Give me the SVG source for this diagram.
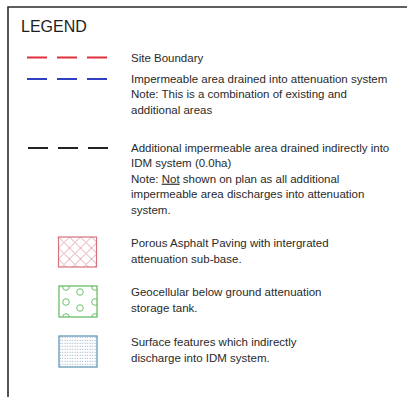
<svg xmlns="http://www.w3.org/2000/svg" width="407" height="400" viewBox="0 0 407 400">
  <style>
    .t { font-family: "Liberation Sans", Arial, sans-serif; font-size: 11.5px; fill: #2a2a2a; }
    .title { font-family: "Liberation Sans", Arial, sans-serif; font-size: 16px; fill: #1e1e1e; }
    .frame { stroke: #2b2b2b; stroke-width: 1.6; fill: none; }
    .dash { stroke-width: 1.8; stroke-dasharray: 20 10; fill: none; }
  </style>
  <defs>
    <pattern id="hatch" patternUnits="userSpaceOnUse" x="58.5" y="237" width="11" height="11">
      <path d="M0,0 L11,11 M11,0 L0,11 M-1,10 L1,12 M10,-1 L12,1 M-1,1 L1,-1 M10,12 L12,10" stroke="#e0a0a8" stroke-width="0.9" fill="none"/>
    </pattern>
    <pattern id="dots" patternUnits="userSpaceOnUse" x="59" y="336" width="2.5" height="3">
      <rect x="0.6" y="0.8" width="1" height="1" fill="#8aa6bd"/>
    </pattern>
    <clipPath id="clipGeo">
      <rect x="59" y="286" width="38" height="31"/>
    </clipPath>
  </defs>

  <rect width="407" height="400" fill="#ffffff"/>

  <!-- outer frame (open on the right and bottom) -->
  <g id="frame">
    <path class="frame" d="M8,397 L8,7 L407,7"/>
  </g>

  <g id="title">
    <text class="title" x="21" y="32">LEGEND</text>
  </g>

  <!-- line-type samples -->
  <g id="connectors">
    <line class="dash" x1="27" y1="57.5" x2="110" y2="57.5" stroke="#e0303c"/>
    <line class="dash" x1="27" y1="79" x2="110" y2="79" stroke="#3040c0"/>
    <line class="dash" x1="28" y1="148" x2="110" y2="148" stroke="#222222"/>
  </g>

  <g id="site-boundary">
    <text class="t" x="131" y="61.5">Site Boundary</text>
  </g>

  <g id="impermeable-area">
    <text class="t" x="131" y="82.5">Impermeable area drained into attenuation system</text>
    <text class="t" x="131" y="98">Note: This is a combination of existing and</text>
    <text class="t" x="131" y="113.5">additional areas</text>
  </g>

  <g id="additional-area">
    <text class="t" x="131" y="151.5">Additional impermeable area drained indirectly into</text>
    <text class="t" x="131" y="167">IDM system (0.0ha)</text>
    <text class="t" x="131" y="182.7">Note: <tspan text-decoration="underline">Not</tspan> shown on plan as all additional</text>
    <text class="t" x="131" y="198.4">impermeable area discharges into attenuation</text>
    <text class="t" x="131" y="214">system.</text>
  </g>

  <g id="porous-asphalt">
    <rect x="58.5" y="237" width="38" height="30" fill="url(#hatch)" stroke="#d8707e" stroke-width="1.2"/>
    <text class="t" x="131" y="247">Porous Asphalt Paving with intergrated</text>
    <text class="t" x="131" y="262.5">attenuation sub-base.</text>
  </g>

  <g id="geocellular">
    <g clip-path="url(#clipGeo)" fill="none" stroke="#6cc06c" stroke-width="1">
      <circle cx="66" cy="287" r="3.3"/>
      <circle cx="66" cy="302" r="3.3"/>
      <circle cx="66" cy="317" r="3.3"/>
      <circle cx="80" cy="292" r="3.3"/>
      <circle cx="80" cy="308" r="3.3"/>
      <circle cx="95" cy="287" r="3.3"/>
      <circle cx="95" cy="302" r="3.3"/>
      <circle cx="95" cy="317" r="3.3"/>
    </g>
    <rect x="59" y="286" width="38" height="31" fill="none" stroke="#5cb85c" stroke-width="1.2"/>
    <text class="t" x="131" y="296">Geocellular below ground attenuation</text>
    <text class="t" x="131" y="311.5">storage tank.</text>
  </g>

  <g id="surface-features">
    <rect x="59" y="336" width="38" height="31" fill="url(#dots)" stroke="#5a8fb0" stroke-width="1.2"/>
    <text class="t" x="131" y="346">Surface features which indirectly</text>
    <text class="t" x="131" y="362">discharge into IDM system.</text>
  </g>
</svg>
